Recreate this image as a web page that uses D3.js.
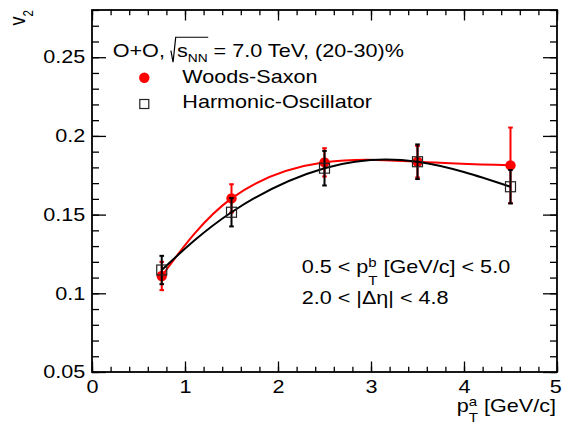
<!DOCTYPE html>
<html>
<head>
<meta charset="utf-8">
<script src="https://cdn.jsdelivr.net/npm/d3@7"></script>
<style>
  body { margin: 0; background: #fff; }
  text { font-family: "Liberation Sans", Arial, Helvetica, sans-serif; white-space: pre; }
</style>
</head>
<body>
<div class="chart"></div>
<script>
// v2 vs pT^a, O+O 7 TeV (20-30)%
const ptA   = [0.75, 1.5, 2.5, 3.5, 4.5];
const v2WS  = [0.111, 0.1603, 0.1832, 0.1836, 0.1813];
const errWS = [0.009, 0.009, 0.009, 0.010, 0.024];
const v2HO  = [0.1148, 0.1515, 0.1795, 0.1836, 0.1677];
const errHO = [0.009, 0.009, 0.011, 0.011, 0.0106];

const xTicks = [0, 1, 2, 3, 4, 5];
const yTicks = [0.05, 0.1, 0.15, 0.2, 0.25];

const margin = {top: 10, left: 92, bottom: 52, right: 5};
const width = 562 - margin.left - margin.right;
const height = 424 - margin.top - margin.bottom;

const sx = 1.2;   // text in the picture is wider than tall
const fs = 18;

const svg = d3.select('.chart').append('svg')
    .attr('width', 562)
    .attr('height', 424);

const plot = svg.append('g')
    .attr('transform', 'translate(' + margin.left + ',' + margin.top + ')');

const x = d3.scaleLinear().domain([0, 5]).range([0, width]);
const y = d3.scaleLinear().domain([0.05, 0.28]).range([height, 0]);

// axes, ROOT style: ticks inside on all four sides
function styleAxis(g, labels) {
    g.select('.domain').remove();
    g.selectAll('line').attr('stroke', 'black').attr('stroke-width', 1.3);
    if (labels) {
        g.attr('font-size', fs).attr('font-family', null);
        g.selectAll('text').attr('fill', 'black').attr('transform', 'scale(' + sx + ',1)');
    } else {
        g.selectAll('text').remove();
    }
}

plot.append('g').attr('transform', `translate(0,${height})`)
    .call(d3.axisBottom(x).tickValues(xTicks).tickSize(-10.5).tickPadding(8.5).tickFormat(d3.format('d')))
    .call(g => styleAxis(g, true))
    .call(g => g.selectAll('text').filter(d => d === 5).attr('x', -1.5));  // keep the last label inside the page
plot.append('g').attr('transform', `translate(0,${height})`)
    .call(d3.axisBottom(x).tickValues(x.ticks(25)).tickSize(-5.3))
    .call(g => styleAxis(g, false));
plot.append('g')
    .call(d3.axisTop(x).tickValues(xTicks).tickSize(-10.5))
    .call(g => styleAxis(g, false));
plot.append('g')
    .call(d3.axisTop(x).tickValues(x.ticks(25)).tickSize(-5.3))
    .call(g => styleAxis(g, false));

plot.append('g')
    .call(d3.axisLeft(y).tickValues(yTicks).tickSize(-14).tickPadding(5.6).tickFormat(d => String(d)))
    .call(g => styleAxis(g, true));
plot.append('g')
    .call(d3.axisLeft(y).tickValues(y.ticks(23)).tickSize(-7))
    .call(g => styleAxis(g, false));
plot.append('g').attr('transform', `translate(${width},0)`)
    .call(d3.axisRight(y).tickValues(yTicks).tickSize(-14))
    .call(g => styleAxis(g, false));
plot.append('g').attr('transform', `translate(${width},0)`)
    .call(d3.axisRight(y).tickValues(y.ticks(23)).tickSize(-7))
    .call(g => styleAxis(g, false));

plot.append('rect')
    .attr('width', width)
    .attr('height', height)
    .attr('fill', 'none')
    .attr('stroke', 'black')
    .attr('stroke-width', 1.8);

// series
function drawSeries(vals, errs, color, marker) {
    const pts = ptA.map((p, i) => ({p: p, v: vals[i], e: errs[i]}));
    plot.append('path')
        .datum(pts)
        .attr('fill', 'none')
        .attr('stroke', color)
        .attr('stroke-width', 2)
        .attr('d', d3.line().x(d => x(d.p)).y(d => y(d.v)).curve(d3.curveNatural));

    const eb = plot.append('g').attr('stroke', color).attr('stroke-width', 2);
    eb.selectAll('.bar').data(pts).enter().append('line')
        .attr('x1', d => x(d.p)).attr('x2', d => x(d.p))
        .attr('y1', d => y(d.v - d.e)).attr('y2', d => y(d.v + d.e));
    eb.selectAll('.capT').data(pts).enter().append('line')
        .attr('x1', d => x(d.p) - 2.3).attr('x2', d => x(d.p) + 2.3)
        .attr('y1', d => y(d.v + d.e)).attr('y2', d => y(d.v + d.e));
    eb.selectAll('.capB').data(pts).enter().append('line')
        .attr('x1', d => x(d.p) - 2.3).attr('x2', d => x(d.p) + 2.3)
        .attr('y1', d => y(d.v - d.e)).attr('y2', d => y(d.v - d.e));

    if (marker === 'circle') {
        plot.selectAll('.ws').data(pts).enter().append('circle')
            .attr('cx', d => x(d.p)).attr('cy', d => y(d.v))
            .attr('r', 5.2).attr('fill', color);
    } else {
        plot.selectAll('.ho').data(pts).enter().append('rect')
            .attr('x', d => x(d.p) - 5).attr('y', d => y(d.v) - 5)
            .attr('width', 10).attr('height', 10)
            .attr('fill', 'none').attr('stroke', '#222').attr('stroke-width', 1.2);
    }
}
drawSeries(v2WS, errWS, '#ff0000', 'circle');
drawSeries(v2HO, errHO, '#000000', 'square');

// text pieces with sub/superscripts
function rich(px, py, runs, o) {
    o = o || {};
    const outer = svg.append('g')
        .attr('transform', `translate(${px},${py}) scale(${sx},1)` + (o.rotate ? ' rotate(-90)' : ''));
    const g = outer.append('g');
    let cx = 0;
    runs.forEach(r => {
        if (r.stack) {
            const w = r.stack.map((s, i) => g.append('text')
                .attr('x', cx).attr('y', i ? r.down : -r.up)
                .attr('font-size', r.size).text(s)
                .node().getComputedTextLength());
            cx += d3.max(w);
        } else {
            r.x0 = cx + (r.dx || 0);
            const t = g.append('text')
                .attr('x', r.x0).attr('y', r.dy || 0)
                .attr('font-size', r.size || fs).text(r.t);
            cx = r.x1 = r.x0 + t.node().getComputedTextLength();
        }
    });
    if (o.anchor === 'end') g.attr('transform', `translate(${-cx},0)`);
    return g;
}

const head = [{t: 'O+O, '}, {t: 's', dx: 5}, {t: 'NN', size: 11.5, dy: 5.6}, {t: ' = 7.0 TeV, (20-30)%'}];
const hg = rich(112.7, 56.7, head);
const xs = head[1].x0, xe = head[2].x1;
hg.append('path')
    .attr('d', `M${xs - 5},-6 L${xs - 3.2},5.5 L${xs - 1},-19.5 L${xe + 0.5},-19.5`)
    .attr('fill', 'none').attr('stroke', 'black').attr('stroke-width', 1);

// legend
svg.append('circle').attr('cx', 144.3).attr('cy', 77.7).attr('r', 5.2).attr('fill', '#ff0000');
svg.append('rect').attr('x', 139.8).attr('y', 99.5).attr('width', 9).attr('height', 9)
    .attr('fill', 'none').attr('stroke', '#222').attr('stroke-width', 1.2);
rich(182.3, 83.3, [{t: 'Woods-Saxon'}]);
rich(182.3, 108.3, [{t: 'Harmonic-Oscillator'}]);

// cuts
rich(301.7, 273.3, [{t: '0.5 < p'}, {stack: ['b', 'T'], size: 12.5, up: 6, down: 11.5}, {t: ' [GeV/c] < 5.0'}]);
rich(301.7, 304, [{t: '2.0 < |Δη| < 4.8'}]);

// axis titles
rich(556, 411.7, [{t: 'p'}, {stack: ['a', 'T'], size: 12.5, up: 6, down: 10}, {t: ' [GeV/c]'}], {anchor: 'end'});
rich(25, 10, [{t: 'v'}, {t: '2', size: 11.5, dy: 6.5}], {anchor: 'end', rotate: true});
</script>
</body>
</html>
